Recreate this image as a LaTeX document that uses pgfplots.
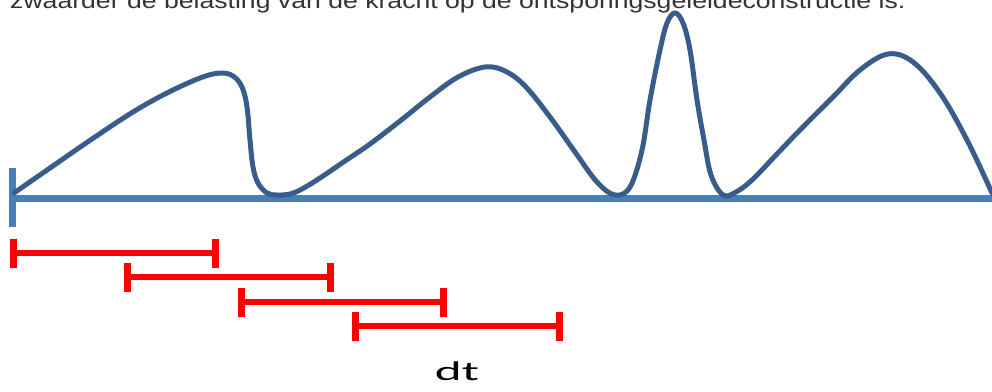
\documentclass[border=0pt]{standalone}
\usepackage{pgfplots}
\usepackage{fontspec}
\setmainfont{Liberation Sans}
\newfontfamily\calib{Carlito}
\pgfplotsset{compat=1.18}

\definecolor{curveblue}{HTML}{385D8A}
\definecolor{axisblue}{HTML}{4A7EBB}
\definecolor{txtgray}{HTML}{333333}

\begin{document}
\begin{tikzpicture}
\begin{axis}[
    scale only axis,
    width=992bp, height=392bp,
    xmin=0, xmax=992, ymin=0, ymax=392,
    y dir=reverse,
    hide axis,
    clip=true,
]
% time axis
\addplot[axisblue, line width=7bp] coordinates {(9,198) (992,198)};
\addplot[axisblue, line width=7bp] coordinates {(12.5,168) (12.5,227)};

% load curve
\addplot[curveblue, line width=5bp, smooth, tension=0.6, line cap=round] coordinates {
    (14,193) (50,168) (92,139) (133,112) (167,93) (200,78) (220,73)
    (233,76) (242,87) (247,107) (250,140) (253,167) (258,183) (267,193)
    (277,195) (290,194) (302,189) (320,178) (345,161) (370,144)
    (400,121) (430,97) (458,77) (485,67) (505,71) (525,86) (550,117)
    (575,152) (597,182) (615,195) (630,187) (642,150) (650,100) (660,50)
    (667,23) (675,13) (683,23) (690,50) (697,100) (704,140) (711,175)
    (723,195) (736,192) (752,180) (776,155) (800,130) (833,97) (860,70)
    (888,54) (913,62) (940,93) (967,140) (992,193)
};

% dt intervals
\pgfplotsset{dtbar/.style={red, line width=6.5bp, mark=|, mark size=14.5bp,
    mark options={line width=7bp}}}
\addplot[dtbar] coordinates {(13,253) (215,253)};
\addplot[dtbar] coordinates {(127,277) (330,277)};
\addplot[dtbar] coordinates {(241,302) (443,302)};
\addplot[dtbar] coordinates {(355,326) (559,326)};

\node[overlay, anchor=base west, inner sep=0pt, text=txtgray] at (axis cs:10,8.5)
    {\scalebox{1.21}[1]{\fontsize{22bp}{26bp}\selectfont zwaarder de belasting van de kracht op de ontsporingsgeleideconstructie is.}};
\node[anchor=base, inner sep=0pt] at (axis cs:457,380)
    {\scalebox{1.9}[1]{\calib\fontsize{27bp}{30bp}\selectfont dt}};
\end{axis}
\pgfresetboundingbox
\useasboundingbox (current axis.south west) rectangle (current axis.north east);
\end{tikzpicture}
\end{document}
